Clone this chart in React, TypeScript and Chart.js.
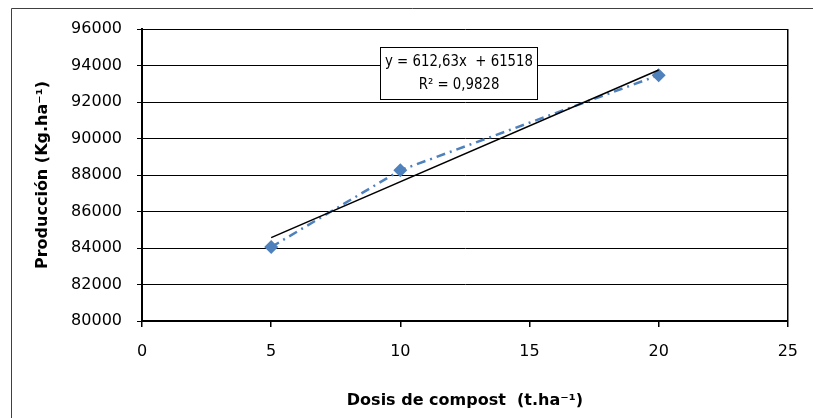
import React, { useEffect, useRef } from "react";
import { Chart, registerables } from "chart.js";

Chart.register(...registerables);

const doseX = [5, 10, 20];
const production = [84050, 88260, 93470];
const trendX = [5, 20];
const trendY = [84570, 93750];
const xTicks = [0, 5, 10, 15, 20, 25];
const yTicks = [80000, 82000, 84000, 86000, 88000, 90000, 92000, 94000, 96000];
const equationLines = ["y = 612,63x  + 61518", "R² = 0,9828"];
const xTitle = "Dosis de compost  (t.ha⁻¹)";
const yTitle = "Producción (Kg.ha⁻¹)";

const FONT = "'DejaVu Sans', Verdana, sans-serif";

export default function App() {
  const ref = useRef<HTMLCanvasElement | null>(null);

  useEffect(() => {
    const canvas = ref.current;
    if (!canvas) return;

    const frame = {
      id: "frame",
      beforeDraw(chart: any) {
        const c = chart.ctx;
        c.save();
        c.fillStyle = "#fff";
        c.fillRect(0, 0, chart.width, chart.height);
        c.strokeStyle = "#404040";
        c.lineWidth = 1;
        c.beginPath();
        c.moveTo(11.5, chart.height + 2);
        c.lineTo(11.5, 8.5);
        c.lineTo(chart.width + 2, 8.5);
        c.stroke();
        c.restore();
      },
    };

    const equation = {
      id: "equation",
      afterDatasetsDraw(chart: any) {
        const c = chart.ctx;
        const x0 = 380.5, y0 = 47.5, w = 157, h = 52;
        c.save();
        c.fillStyle = "#fff";
        c.fillRect(x0, y0, w, h);
        c.strokeStyle = "#000";
        c.lineWidth = 1;
        c.strokeRect(x0, y0, w, h);
        c.fillStyle = "#000";
        c.font = "16px " + FONT;
        c.textAlign = "center";
        c.textBaseline = "middle";
        const cx = x0 + w / 2;
        const lineW = c.measureText(equationLines[0]).width;
        const sx = Math.min(1, 148 / lineW);
        c.translate(cx, 0);
        c.scale(sx, 1);
        c.fillText(equationLines[0], 0, 62);
        c.fillText(equationLines[1], 0, 85);
        c.restore();
      },
    };

    const chart = new Chart(canvas, {
      type: "scatter",
      data: {
        datasets: [
          {
            label: "Producción",
            data: doseX.map((x, i) => ({ x, y: production[i] })),
            showLine: true,
            borderColor: "#4F81BD",
            backgroundColor: "#4F81BD",
            borderWidth: 2.5,
            borderDash: [9, 5, 2, 5],
            pointStyle: "rectRot",
            pointRadius: 7,
            pointBorderWidth: 0,
            order: 1,
          },
          {
            label: "Tendencia",
            data: trendX.map((x, i) => ({ x, y: trendY[i] })),
            showLine: true,
            borderColor: "#000",
            borderWidth: 1.5,
            pointRadius: 0,
            order: 0,
          },
        ],
      },
      options: {
        responsive: false,
        animation: false,
        layout: { padding: { top: 29, right: 22, left: 0, bottom: 0 } },
        plugins: { legend: { display: false }, tooltip: { enabled: false } },
        scales: {
          x: {
            type: "linear",
            min: 0,
            max: 25,
            afterFit: (s: any) => {
              s.height = 97;
            },
            afterBuildTicks: (s: any) => {
              s.ticks = xTicks.map((v) => ({ value: v }));
            },
            ticks: {
              color: "#000",
              font: { family: FONT, size: 16 },
              padding: 15,
              maxRotation: 0,
              callback: (v: any) => String(v),
            },
            grid: {
              color: (ctx: any) => (ctx.tick && ctx.tick.value === 25 ? "#000" : "rgba(0,0,0,0)"),
              tickColor: "#000",
              tickLength: 6,
              lineWidth: 1.5,
            },
            border: { color: "#000", width: 2 },
            title: {
              display: true,
              text: xTitle,
              color: "#000",
              font: { family: FONT, size: 16, weight: "bold" },
              padding: { top: 0, bottom: 8 },
            },
          },
          y: {
            min: 80000,
            max: 96000,
            afterFit: (s: any) => {
              s.width = 142;
            },
            afterBuildTicks: (s: any) => {
              s.ticks = yTicks.map((v) => ({ value: v }));
            },
            ticks: {
              color: "#000",
              font: { family: FONT, size: 16 },
              padding: 15,
              callback: (v: any) => String(v),
            },
            grid: {
              color: "#000",
              tickColor: "#000",
              tickLength: 5,
              lineWidth: 1,
            },
            border: { color: "#000", width: 2 },
            title: {
              display: true,
              text: yTitle,
              color: "#000",
              font: { family: FONT, size: 16, weight: "bold" },
              padding: { top: 33, bottom: 0 },
            },
          },
        },
      },
      plugins: [frame, equation],
    } as any);

    return () => chart.destroy();
  }, []);

  return (
    <div style={{ position: "absolute", left: 0, top: 0, width: 813, height: 418 }}>
      <canvas ref={ref} width={813} height={418} style={{ display: "block" }} />
    </div>
  );
}
